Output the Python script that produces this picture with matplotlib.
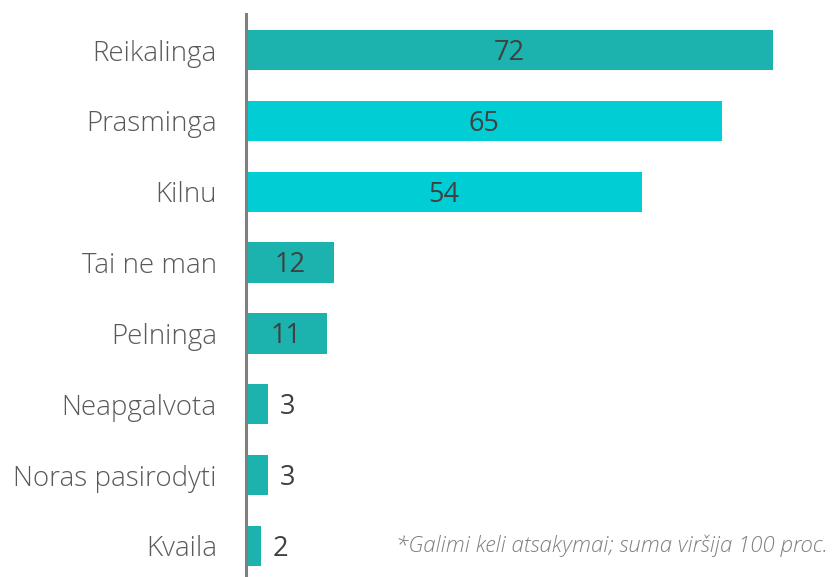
import matplotlib.pyplot as plt

categories = ["Reikalinga", "Prasminga", "Kilnu", "Tai ne man", "Pelninga",
              "Neapgalvota", "Noras pasirodyti", "Kvaila"]
values = [72, 65, 54, 12, 11, 3, 3, 2]
teal = "#1CB2AE"
cyan = "#00CED4"
colors = [teal, cyan, cyan, teal, teal, teal, teal, teal]

plt.rcParams['font.family'] = ['Open Sans', 'DejaVu Sans']

fig = plt.figure(figsize=(8.32, 5.77), dpi=100)
ax = fig.add_axes([246 / 832, 0, 1 - 246 / 832, (577 - 14) / 577])

pos = list(range(len(categories)))
ax.barh(pos, values, height=0.57, color=colors)
ax.set_ylim(7.44, -0.51)
ax.set_xlim(0, 80)

for i, v in enumerate(values):
    if v >= 10:
        ax.text(v / 2, i + 0.04, str(v), ha='center', va='center',
                fontsize=19.5, color='#404040')
    else:
        ax.text(v + 1.6, i + 0.04, str(v), ha='left', va='center',
                fontsize=19.5, color='#404040')

ax.set_yticks(pos)
ax.set_yticklabels(categories, fontsize=20, color='#595959', fontweight='light')
ax.tick_params(axis='y', length=0, pad=21)
ax.set_xticks([])
for s in ['top', 'right', 'bottom']:
    ax.spines[s].set_visible(False)
ax.spines['left'].set_color('#7F7F7F')
ax.spines['left'].set_linewidth(2.2)

fig.text(828 / 832, 1 - 546 / 577, "*Galimi keli atsakymai; suma viršija 100 proc.",
         ha='right', va='center', fontsize=16, style='italic',
         fontweight='light', color='#7F7F7F')

fig.savefig("out.png", dpi=100)
